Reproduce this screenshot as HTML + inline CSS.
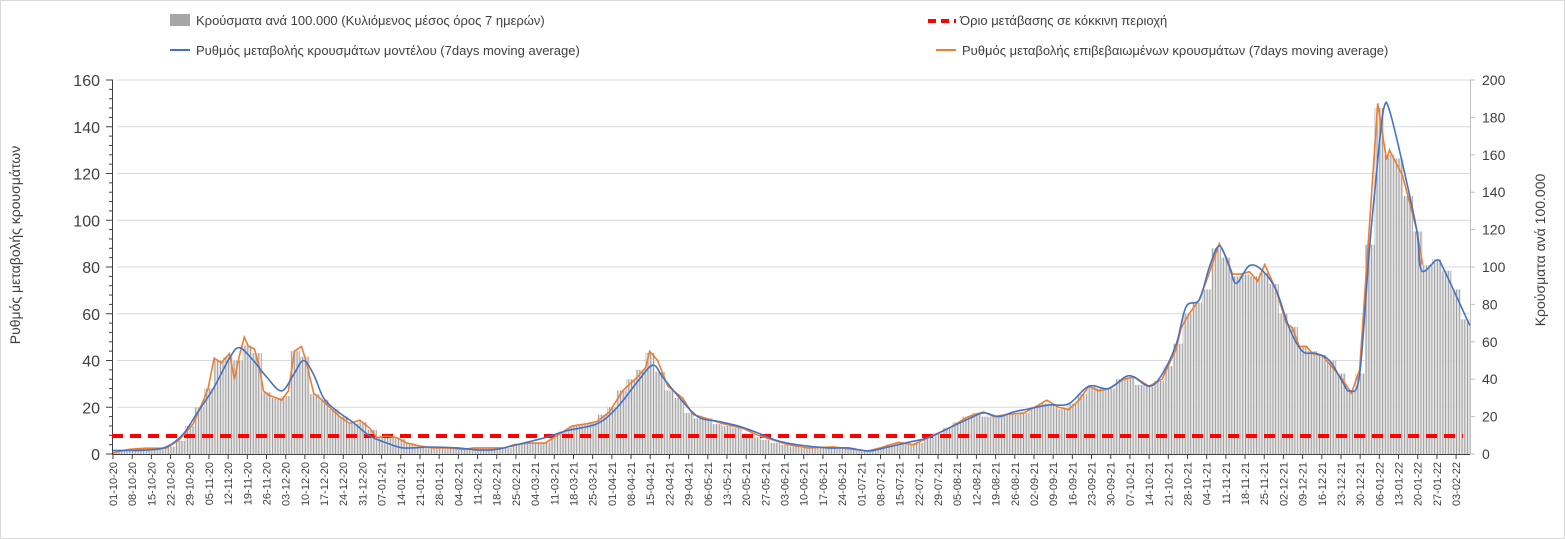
<!DOCTYPE html>
<html><head><meta charset="utf-8"><style>
body{margin:0;background:#fff;}
svg{display:block;font-family:"Liberation Sans",sans-serif;}
</style></head><body>
<svg id="chart" width="1565" height="539">
<defs>
<pattern id="stripes" patternUnits="userSpaceOnUse" x="113" y="0" width="2.741" height="10">
<rect x="0" y="0" width="1.1" height="10" fill="#9a9a9a"/>
<rect x="1.1" y="0" width="1.641" height="10" fill="#e6e6e6"/>
</pattern>
</defs>
<rect x="0.5" y="0.5" width="1564" height="538" fill="#fff" stroke="#d9d9d9"/>
<g id="grid"></g>
<g id="bars"></g>
<g id="axes"></g>
<g id="lines"></g>
<text x="20" y="245" transform="rotate(-90 20 245)" text-anchor="middle" font-size="14" fill="#404040">Ρυθμός μεταβολής κρουσμάτων</text>
<text x="1545" y="250" transform="rotate(-90 1545 250)" text-anchor="middle" font-size="14" fill="#404040">Κρούσματα ανά 100.000</text>
<g>
 <rect x="170" y="14" width="20" height="12" fill="#a6a6a6"/>
 <text x="196" y="25" font-size="13" fill="#404040">Κρούσματα ανά 100.000 (Κυλιόμενος μέσος όρος 7 ημερών)</text>
 <line x1="170" y1="50" x2="190" y2="50" stroke="#4472c4" stroke-width="2"/>
 <text x="196" y="55" font-size="13" fill="#404040">Ρυθμός μεταβολής κρουσμάτων μοντέλου (7days moving average)</text>
 <line x1="928" y1="21" x2="956" y2="21" stroke="#ff0000" stroke-width="4" stroke-dasharray="8,5"/>
 <text x="960" y="25" font-size="13" fill="#404040">Όριο μετάβασης σε κόκκινη περιοχή</text>
 <line x1="936" y1="50" x2="956" y2="50" stroke="#ed7d31" stroke-width="2"/>
 <text x="962" y="55" font-size="13" fill="#404040">Ρυθμός μεταβολής επιβεβαιωμένων κρουσμάτων (7days moving average)</text>
</g>
</svg>
<script>
const barVals=[1,2,2.5,3,3,3,4,7,15,25,35,50,52,50,58,54,33,30,31,55,52,32,29,24,20,16,17,13,9,9,8,5.6,4,3.2,3.2,3.2,2.5,3,3.2,3.2,3.2,3.2,5,5.6,6,6,10,12,15,16,17,21,25,34,40,45,54,44,34,30,22,19,19,16,15,14,10,9,7.5,6,5,4,3.2,3.2,3.2,3.8,3.2,2.5,1.6,2,3.2,5,6,5,6,9,11,14,17,20,22,20,20,21,21,22,25,27,26,24,27,32,36,35,35,40,41,37,36,39,47,59,75,81,88,110,105,95,96,95,97,91,75,68,58,55,53,50,43,34,43,112,185,160,158,138,119,101,104,98,88,72];
const blueDays=[0,12,19.4,25.6,30.4,36.6,42.5,46.1,51.2,56,61.5,65.9,69.5,73.2,76.8,81.6,87.8,93.7,99.9,106,115.6,125.5,133.9,140.1,147.4,157.7,165.7,176.7,184,191.4,196.9,200.5,206,213.3,220.6,228,235.3,242.6,249.9,260.9,268.2,275.5,282.8,290.2,297.5,304.8,312.1,317.6,323.1,328.6,334.1,341.4,348.7,356,363.3,370.7,378,382.7,387.9,391.5,396.3,400,403.6,407.3,409.8,414.6,419.3,424.4,429.1,433.9,439,443.8,448.5,451.1,454.8,458.4,462.1,463.9,465.7,470.5,475.6,477.4,482.9,485.1,490.3,495];
const blueVals=[1.5,1.7,3,8.5,17,28,41,45.5,40,33,27,34,40,34,24,18.5,13.3,7.7,4.7,2.6,3,2.6,1.7,2,4,7,10,13,20,31,38,33,25,16,14,12,9,5.6,3.9,2.6,2.6,1.3,3,5,7,11,15,17.6,16,18,19.3,21,21.5,29,28,33.5,29,34,47,63,66,80,89,80,73,80.6,78.5,70,54,44,43,40,31,27,34,88,134,149,147,124,96,78.5,83,80,67,55];
const orangeDays=[0,5.9,12,19.4,24.1,29.3,33,34.7,36.9,39.5,42.5,44.3,46.1,47.9,49.4,51.6,53.4,54.9,57.1,59.7,61.5,64,66.2,68.8,70.6,73.2,75.4,79,82.7,86.4,90,93.7,96.3,99.9,103.5,107.2,111.9,117.1,121.8,128.1,131.7,137.6,142.7,146.4,152.2,157.7,162.1,167.6,173.1,176.7,181.1,185.9,191.4,194.3,195.8,198.7,202.4,207.8,211.5,217,222.5,229.8,235.3,240.8,246.3,253.6,262.7,270,275.5,281,286.5,292,297.5,304.8,312.1,317.6,321.3,326.7,332.2,337.7,340.6,345,348.7,352.4,356,359.7,363.3,368.8,372.5,378,382.7,387.9,389.7,392.6,396.3,399.2,403.6,406.2,408.4,411.7,414.6,417.6,420.2,424.4,428,430.3,432.8,435.4,437.6,441.3,444.9,448.5,451.8,454.8,458.4,461.4,464.6,465.7,470.5,475.6,477.8];
const orangeVals=[0.5,2,2.5,2.5,6,13,23,28,41,39,43,32,42,50,46,45,37,27,25,24,23,27,44,46,39,26,24,20,16,13,14.5,11,7,7.7,7,4.7,3.4,2.6,2.6,2,2.6,2.6,2.6,4,4.7,4.7,8,12,13,14,18,27,33,37,44,40,29,24,17,15,13,11,8,6,4,2.6,3,2,1.3,3,5,4,7,11,16,18,16,17,17.5,21,23,20,19,23,29,27,28,32,33,29,32,45,54,60,66,75,90,84,77,77,78,74,81,70,56,54,46,46,43,42,37,32,26,36,98,150,126,130,119,96,81];
const leftTicks=[0,20,40,60,80,100,120,140,160];
const rightTicks=[0,20,40,60,80,100,120,140,160,180,200];
const threshold=7.7;
const barStepDays=3.5;
const startDate=new Date(2020,9,1);
const tickCount=71;

const NS='http://www.w3.org/2000/svg';
const X0=113,PXD=2.741,Y0=454,PL=(454-80)/160,PR=(454-80)/200;
const x=d=>X0+PXD*d, yl=v=>Y0-PL*v, yr=v=>Y0-PR*v;
function mk(tag,attrs,parent){const e=document.createElementNS(NS,tag);for(const k in attrs)e.setAttribute(k,attrs[k]);parent.appendChild(e);return e;}
function smooth(pts){let d='M'+pts[0][0]+','+pts[0][1];for(let i=0;i<pts.length-1;i++){const p0=pts[Math.max(0,i-1)],p1=pts[i],p2=pts[i+1],p3=pts[Math.min(pts.length-1,i+2)];const c1=[p1[0]+(p2[0]-p0[0])/6,p1[1]+(p2[1]-p0[1])/6],c2=[p2[0]-(p3[0]-p1[0])/6,p2[1]-(p3[1]-p1[1])/6];d+=` C${c1[0]},${c1[1]} ${c2[0]},${c2[1]} ${p2[0]},${p2[1]}`;}return d;}
const grid=document.getElementById('grid'),bars=document.getElementById('bars'),axes=document.getElementById('axes'),lines=document.getElementById('lines');
leftTicks.forEach(t=>{
 if(t>0){const g=mk('line',{x1:117,x2:1470,y1:yl(t),y2:yl(t),stroke:'#d9d9d9','stroke-width':1},grid);
 
 }
 const tx=mk('text',{x:100,y:yl(t)+6,'text-anchor':'end','font-size':16,fill:'#404040'},axes);tx.textContent=t;
 
 
});
for(let v=0;v<=160;v+=4){mk('line',{x1:v%20?109:106,x2:113,y1:yl(v),y2:yl(v),stroke:'#404040','stroke-width':1},axes);}
rightTicks.forEach(t=>{
 const tx=mk('text',{x:1482,y:yr(t)+5,'font-size':14,fill:'#404040'},axes);tx.textContent=t;
 
 
 mk('line',{x1:1470,x2:1475,y1:yr(t),y2:yr(t),stroke:'#bfbfbf'},axes);
});
mk('line',{x1:112.5,x2:112.5,y1:80,y2:454,stroke:'#404040'},axes);
mk('line',{x1:1470.5,x2:1470.5,y1:80,y2:454,stroke:'#bfbfbf'},axes);
barVals.forEach((v,i)=>{
 const cx=x(i*barStepDays);const w=PXD*barStepDays;
 const r=mk('rect',{x:Math.max(113,cx-w/2),y:yr(v),width:w,height:Y0-yr(v),fill:'url(#stripes)'},bars);
 
 
});
mk('line',{x1:112,x2:1470,y1:454.5,y2:454.5,stroke:'#404040'},axes);
for(let i=0;i<tickCount;i++){
 const d=i*7,px=x(d);
 mk('line',{x1:px,x2:px,y1:454,y2:459,stroke:'#404040'},axes);
 const dt=new Date(startDate.getTime());dt.setDate(dt.getDate()+d);
 const lab=String(dt.getDate()).padStart(2,'0')+'-'+String(dt.getMonth()+1).padStart(2,'0')+'-'+String(dt.getFullYear()%100);
 const tx=mk('text',{x:px+4,y:462,transform:`rotate(-90 ${px+4} 462)`,'text-anchor':'end','font-size':11,fill:'#404040'},axes);tx.textContent=lab;
 
 
}
const th=mk('line',{x1:112,x2:1463,y1:yl(threshold),y2:yl(threshold),stroke:'#ff0000','stroke-width':4,'stroke-dasharray':'11,7'},lines);


const ob=mk('polyline',{points:orangeDays.map((d,i)=>x(d)+','+yl(orangeVals[i])).join(' '),fill:'none',stroke:'#ed7d31','stroke-width':1.6},lines);


const bl=mk('path',{d:smooth(blueDays.map((d,i)=>[x(d),yl(blueVals[i])])),fill:'none',stroke:'#4472c4','stroke-width':1.6,'stroke-linejoin':'round'},lines);


</script>
</body></html>
